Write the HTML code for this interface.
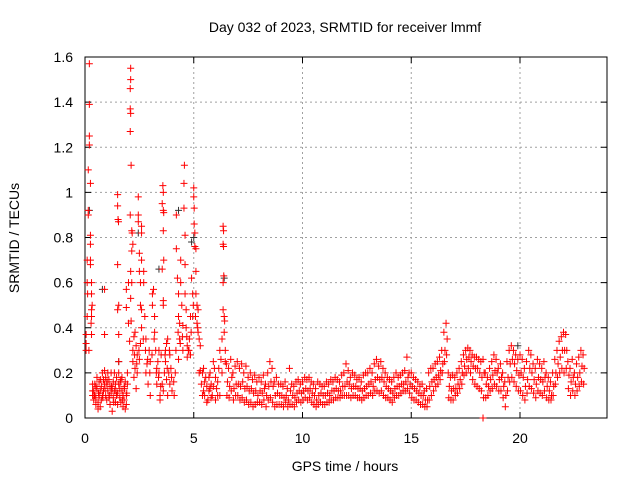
<!DOCTYPE html>
<html><head><meta charset="utf-8"><style>
body{margin:0;background:#fff}
svg{display:block;font-family:"Liberation Sans",sans-serif}
</style></head><body>
<svg id="chart" width="640" height="480" viewBox="0 0 640 480">
<rect width="640" height="480" fill="#fff"/>
<g id="grid"></g>
<g id="axes"></g>
<g id="black-series"></g>
<g id="red-series"></g>
<text x="345" y="32" text-anchor="middle" font-size="14">Day 032 of 2023, SRMTID for receiver lmmf</text>
<text x="345" y="471" text-anchor="middle" font-size="14">GPS time / hours</text>
<text transform="translate(19,238) rotate(-90)" text-anchor="middle" font-size="14">SRMTID / TECUs</text>
</svg>
<script>
const xTicks=[0,5,10,15,20];
const yTicks=[0,0.2,0.4,0.6,0.8,1,1.2,1.4,1.6];
const yTickLabels=["0","0.2","0.4","0.6","0.8","1","1.2","1.4","1.6"];
const earlyX=[0.05,0.05,0.05,0.1,0.1,0.1,0.15,0.15,0.15,0.2,0.2,0.2,0.2,0.25,0.25,0.25,0.25,0.25,0.3,0.3,0.3,0.3,0.3,0.35,0.35,0.35,
.4,.4,.45,.45,.5,.5,.55,.55,.6,.6,.65,.65,.7,.7,.75,.75,.8,.8,.85,.85,.9,.9,.95,.95,1.0,1.0,1.05,1.05,1.1,1.1,1.15,1.15,1.2,1.2,1.25,1.25,1.3,1.3,1.35,1.35,1.4,1.4,1.45,1.45,1.5,1.5,1.55,1.55,1.6,1.6,1.65,1.65,1.7,1.7,1.75,1.75,1.8,1.8,1.85,1.85,1.9,1.9,1.95,1.95,
0.9,0.9,1.5,1.5,1.52,1.54,1.5,1.5,1.55,1.55,1.55,1.9,1.9,2.0,2.0,
2.1,2.1,2.08,2.08,2.1,2.08,2.12,2.08,2.15,2.17,2.2,2.15,2.1,2.15,2.1,2.12,2.05,2.2,2.25,2.3,2.35,2.4,2.45,2.45,2.45,2.5,2.5,2.55,2.55,2.6,2.6,2.6,2.6,2.6,2.2,2.3,2.4,2.5,2.55,2.35,2.25,
2.7,2.7,2.75,2.8,2.8,2.85,2.9,2.95,3.0,3.0,3.1,3.1,3.15,3.2,3.2,3.25,3.3,3.3,3.35,3.4,3.45,3.45,3.4,3.5,
3.55,3.58,3.6,3.6,3.62,3.6,3.62,3.55,3.6,3.6,3.55,3.6,3.65,3.7,3.75,3.8,3.7,3.75,3.85,3.9,3.95,4.0,3.8,3.9,
4.1,4.15,4.2,4.2,4.25,4.3,4.3,4.35,4.35,4.3,4.4,4.4,4.45,4.5,4.5,4.55,4.55,4.57,4.6,4.6,4.6,4.65,4.65,4.7,4.7,4.75,4.8,4.85,4.85,4.9,4.95,4.95,5.0,5.0,5.02,5.02,5.05,5.05,5.1,5.1,5.1,5.15,5.15,5.2,5.2,5.25,5.3,5.3,5.25,
5.35,5.4,5.45,5.5,5.55,5.6,5.65,5.7,5.75,5.8,5.85,5.9,5.95,6.0,6.05,6.1,6.15,6.2,6.2,6.25,5.4,5.5,5.6,5.7,5.8,5.9,6.0,6.1,5.45,5.75,
6.35,6.37,6.35,6.37,6.38,6.35,6.35,6.4,6.42,6.4,6.45,6.45,6.3,6.3,18.3,18.3,
0.12,0.18,0.28,0.33,0.42,0.5,0.62,0.72,0.82,0.92,1.02,1.12,1.22,1.32,1.42,1.62,1.72,1.82,1.92,2.28,2.38,2.48,2.68,2.78,2.88,2.98,3.08,3.18,3.28,3.38,3.48,3.68,3.78,3.88,3.98,4.08,4.18,4.28,4.38,4.48,4.68,4.78,4.88,4.98,5.08,5.18];
const earlyY=[.3,.33,.37,.45,.6,.7,.9,.92,1.1,1.57,1.39,1.25,1.21,1.04,.81,.77,.7,.68,.6,.55,.48,.45,.37,.12,.1,.15,
.12,.08,.15,.1,.09,.06,.13,.18,.07,.04,.1,.16,.05,.12,.14,.08,.2,.1,.17,.12,.21,.15,.1,.18,.15,.08,.12,.2,.09,.17,.14,.06,.2,.11,.03,.13,.16,.09,.12,.2,.07,.15,.18,.1,.11,.06,.15,.2,.09,.13,.17,.07,.12,.18,.05,.1,.14,.08,.04,.16,.1,.06,.15,.2,
.57,.37,.99,.94,.88,.87,.68,.48,.5,.37,.25,.57,.49,.6,.42,
1.55,1.5,1.46,1.37,1.35,1.27,1.12,.9,.83,.82,.77,.74,.65,.6,.53,.43,.34,.3,.36,.38,.32,.28,.98,.9,.87,.73,.65,.6,.5,.85,.82,.7,.48,.4,.25,.22,.2,.26,.33,.13,.18,
.65,.6,.45,.35,.2,.24,.15,.3,.25,.1,.55,.5,.57,.45,.38,.3,.22,.15,.25,.2,.1,.08,.3,.28,
.95,1.03,1.0,.92,.91,.83,.7,.66,.52,.5,.15,.12,.2,.3,.33,.35,.25,.17,.2,.15,.22,.12,.1,.28,
.1,.2,.9,.75,.62,.55,.45,.42,.35,.26,.7,.6,.5,.41,.3,1.04,.93,1.12,.81,.68,.55,.48,.4,.32,.27,.3,.35,.28,.45,.62,.55,.45,1.02,.98,.93,.86,.82,.76,.75,.65,.55,.5,.42,.38,.48,.35,.32,.21,.2,
.15,.2,.12,.1,.18,.14,.08,.12,.2,.15,.1,.25,.22,.18,.13,.16,.22,.3,.1,.26,.1,.16,.07,.18,.09,.14,.08,.1,.22,.13,
.85,.83,.77,.76,.63,.6,.48,.45,.43,.38,.3,.25,.35,.2,0,0,
.55,.3,.42,.5,.1,.14,.11,.17,.09,.13,.16,.1,.14,.07,.12,.16,.08,.13,.11,.28,.24,.3,.35,.3,.26,.2,.28,.35,.2,.18,.14,.28,.22,.3,.18,.16,.3,.38,.33,.36,.36,.3,.38,.5,.45,.4];
const baseStart=6.5, baseStep=0.1;
const baseHigh=[.24,.22,.26,.2,.23,
.25,.22,.24,.2,.23,.18,.2,.17,.19,.16,
.18,.16,.19,.15,.2,.25,.22,.16,.18,.15,
.15,.14,.16,.13,.22,.15,.14,.16,.17,.15,
.16,.18,.17,.18,.16,.15,.13,.16,.15,.14,
.14,.16,.15,.17,.16,.18,.17,.16,.19,.2,
.24,.21,.18,.2,.19,.17,.18,.16,.19,.2,
.2,.22,.2,.24,.26,.23,.25,.22,.2,.18,
.17,.16,.18,.2,.18,.19,.2,.21,.27,.2,
.2,.18,.17,.16,.14,.15,.12,.13,.2,.22,
.22,.24,.25,.27,.3,.38,.42,.2,.18,.19,
.18,.2,.22,.25,.28,.3,.31,.3,.28,.27,
.27,.26,.25,.26,.2,.18,.22,.25,.28,.26,
.22,.24,.2,.16,.25,.3,.32,.3,.28,.26,
.28,.26,.22,.25,.3,.28,.24,.22,.26,.24,
.22,.25,.2,.18,.16,.2,.26,.3,.34,.36,
.38,.37,.25,.22,.26,.2,.24,.27,.3,.28];
const baseMid=[.16,.14,.18,.13,.15,
.15,.14,.16,.13,.14,.12,.13,.11,.12,.1,
.12,.11,.13,.1,.14,.16,.14,.1,.11,.1,
.1,.09,.1,.08,.12,.1,.09,.11,.12,.11,
.12,.13,.12,.13,.11,.1,.08,.1,.11,.1,
.1,.11,.1,.12,.12,.13,.12,.12,.14,.14,
.16,.15,.13,.14,.14,.13,.13,.12,.13,.14,
.15,.16,.14,.17,.18,.17,.18,.16,.14,.13,
.12,.11,.13,.14,.14,.15,.15,.16,.18,.15,
.14,.13,.12,.11,.1,.1,.08,.08,.14,.16,
.17,.18,.19,.21,.24,.3,.35,.14,.12,.13,
.13,.15,.17,.2,.23,.26,.27,.25,.23,.22,
.22,.2,.18,.2,.15,.14,.17,.19,.21,.2,
.17,.18,.14,.1,.18,.24,.26,.24,.21,.19,
.2,.18,.14,.17,.22,.2,.17,.15,.18,.17,
.16,.18,.14,.12,.1,.14,.2,.24,.27,.3,
.3,.3,.19,.16,.18,.15,.18,.2,.23,.22];
const baseLow=[.1,.09,.12,.08,.1,
.1,.08,.09,.07,.08,.06,.07,.05,.06,.07,
.07,.06,.08,.05,.08,.09,.07,.05,.06,.06,
.06,.05,.07,.05,.06,.06,.05,.07,.08,.07,
.08,.09,.08,.09,.07,.06,.05,.06,.07,.06,
.06,.07,.07,.08,.08,.09,.09,.09,.1,.1,
.1,.1,.09,.1,.1,.09,.09,.08,.09,.1,
.1,.11,.1,.12,.12,.11,.12,.1,.09,.09,
.08,.07,.09,.1,.1,.11,.12,.12,.13,.11,
.09,.08,.08,.07,.06,.06,.05,.05,.08,.1,
.12,.14,.15,.17,.2,.25,.28,.09,.08,.08,
.1,.11,.13,.15,.19,.2,.22,.2,.17,.15,
.14,.13,.12,.09,.09,.1,.12,.13,.15,.14,
.12,.12,.09,.05,.12,.16,.18,.16,.14,.12,
.12,.1,.08,.11,.14,.13,.11,.09,.12,.11,
.1,.12,.09,.08,.08,.1,.15,.18,.2,.22,
.2,.22,.13,.1,.12,.1,.12,.14,.16,.15];
const blackX=[0.2,0.8,1.55,2.45,3.4,4.3,4.9,5.0,6.4,19.9];
const blackY=[0.92,0.57,0.25,0.82,0.66,0.92,0.78,0.8,0.62,0.32];

const L=85,R=607,T=57,B=418,XMAX=24,YMAX=1.6;
const xs=v=>L+(v/XMAX)*(R-L);
const ys=v=>B-(v/YMAX)*(B-T);
const NS='http://www.w3.org/2000/svg';
function mk(tag,attrs,parent){const e=document.createElementNS(NS,tag);for(const k in attrs)e.setAttribute(k,attrs[k]);parent.appendChild(e);return e;}
const grid=document.getElementById('grid'),axes=document.getElementById('axes');
yTicks.forEach((t,i)=>{
  const y=ys(t);
  if(t>0&&t<YMAX){const g=mk('line',{x1:L,x2:R,y1:y,y2:y,stroke:'#a0a0a0','stroke-dasharray':'2,3','stroke-width':1},grid);
  
  }
  const tk=mk('path',{d:`M${L},${y}h6M${R},${y}h-6`,stroke:'#000','stroke-width':1},axes);
  
  
  const lb=mk('text',{x:L-12,y:y+5,'text-anchor':'end','font-size':14},axes);
  lb.textContent=yTickLabels[i];
  
  
});
xTicks.forEach(t=>{
  const x=xs(t);
  if(t>0){const g=mk('line',{x1:x,x2:x,y1:T,y2:B,stroke:'#a0a0a0','stroke-dasharray':'2,3','stroke-width':1},grid);
  
  }
  const tk=mk('path',{d:`M${x},${B}v-6M${x},${T}v6`,stroke:'#000','stroke-width':1},axes);
  
  
  const lb=mk('text',{x:x,y:B+25,'text-anchor':'middle','font-size':14},axes);
  lb.textContent=String(t);
  
  
});
const frame=mk('rect',{x:L,y:T,width:R-L,height:B-T,fill:'none',stroke:'#000','stroke-width':1},axes);


function plus(g,xv,yv,color){
  const x=xs(xv),y=ys(yv);
  const p=mk('path',{d:`M${x-3.5},${y}h7M${x},${y-3.5}v7`,stroke:color,'stroke-width':1},g);
  
  
}
const bg=document.getElementById('black-series'),rg=document.getElementById('red-series');
blackX.forEach((x,i)=>plus(bg,x,blackY[i],'#333'));
earlyX.forEach((x,i)=>plus(rg,x,earlyY[i],'#ff0000'));
const offsets=[0,0.05,0.025];
[baseHigh,baseMid,baseLow].forEach((arr,k)=>arr.forEach((v,i)=>plus(rg,baseStart+i*baseStep+offsets[k],v,'#ff0000')));
</script>
</body></html>
